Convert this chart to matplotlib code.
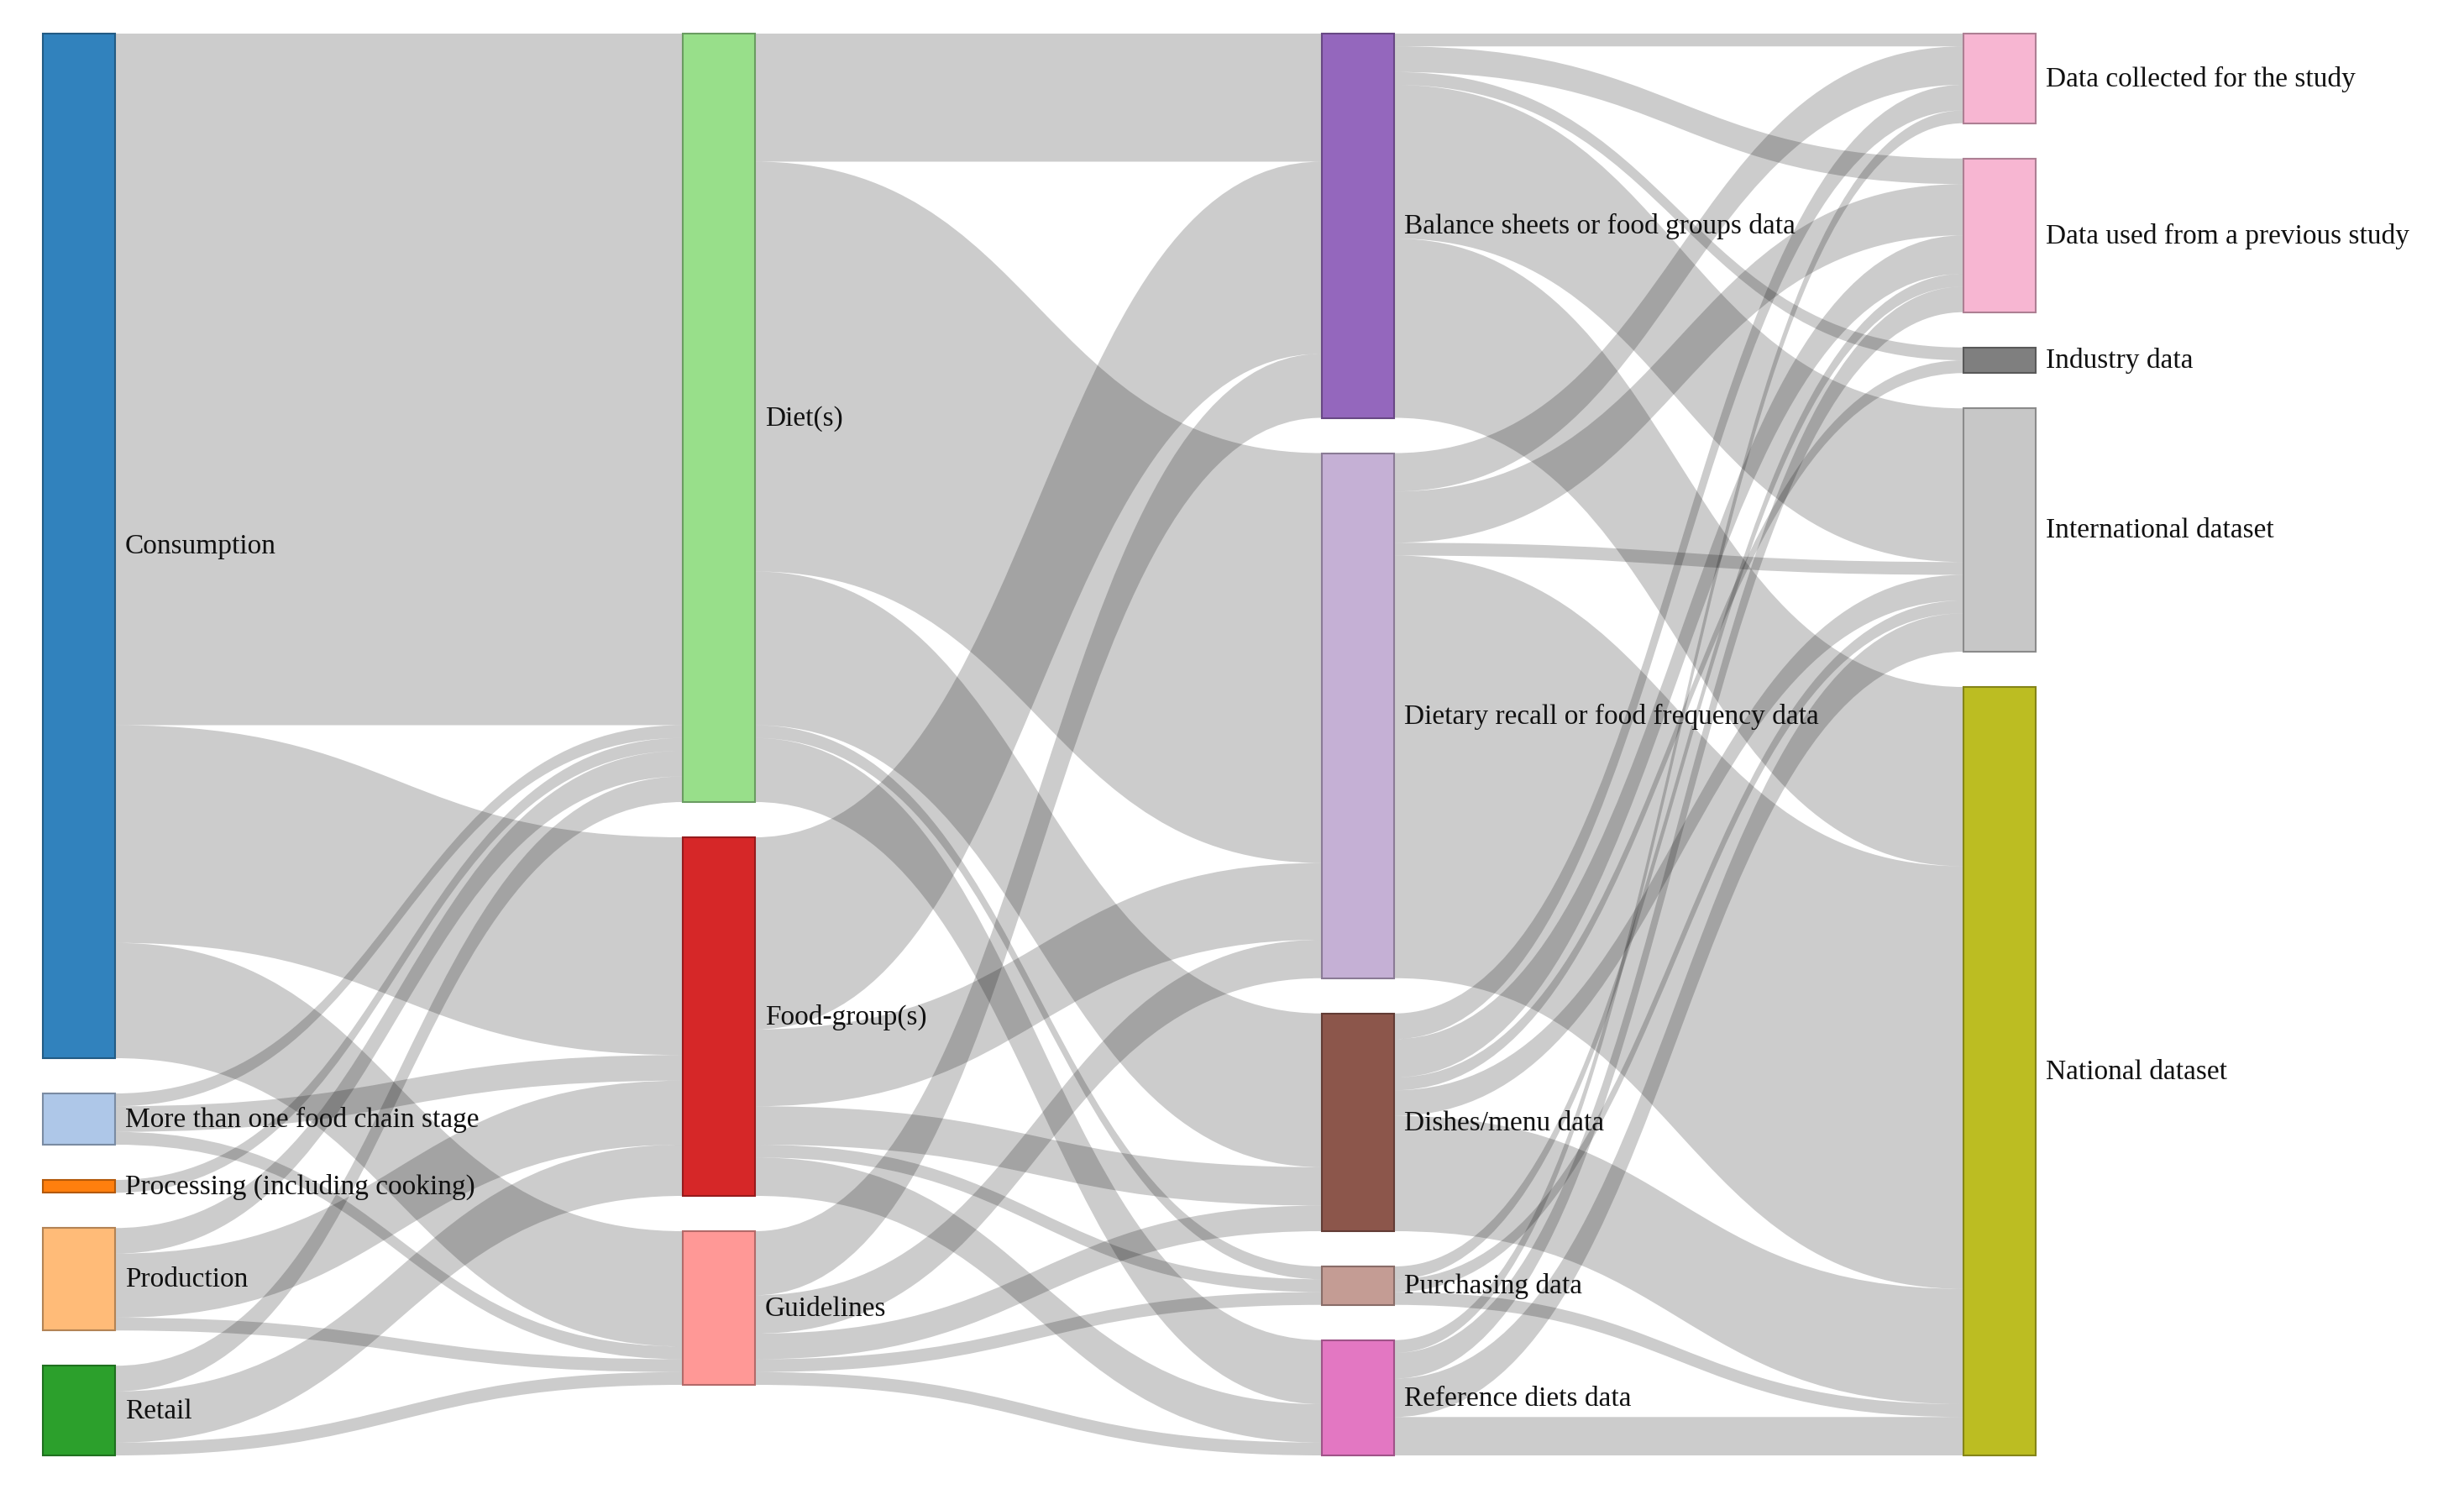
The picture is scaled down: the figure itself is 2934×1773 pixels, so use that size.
import matplotlib
matplotlib.use("Agg")
import matplotlib.pyplot as plt
from matplotlib.path import Path
from matplotlib.patches import PathPatch, Rectangle
import matplotlib.colors as mcolors

# nodes per column
columns = [
    ["Consumption", "More than one food chain stage", "Processing (including cooking)", "Production", "Retail"],
    ["Diet(s)", "Food-group(s)", "Guidelines"],
    ["Balance sheets or food groups data", "Dietary recall or food frequency data", "Dishes/menu data",
     "Purchasing data", "Reference diets data"],
    ["Data collected for the study", "Data used from a previous study", "Industry data",
     "International dataset", "National dataset"],
]
node_colors = {
    "Consumption": "#3182bd", "More than one food chain stage": "#aec7e8",
    "Processing (including cooking)": "#ff7f0e", "Production": "#ffbb78", "Retail": "#2ca02c",
    "Diet(s)": "#98df8a", "Food-group(s)": "#d62728", "Guidelines": "#ff9896",
    "Balance sheets or food groups data": "#9467bd", "Dietary recall or food frequency data": "#c5b0d5",
    "Dishes/menu data": "#8c564b", "Purchasing data": "#c49c94", "Reference diets data": "#e377c2",
    "Data collected for the study": "#f7b6d2", "Data used from a previous study": "#f7b6d2",
    "Industry data": "#7f7f7f", "International dataset": "#c7c7c7", "National dataset": "#bcbd22",
}

# links: (source, target, value)
links = [
    ("Consumption", "Diet(s)", 54), ("Consumption", "Food-group(s)", 17), ("Consumption", "Guidelines", 9),
    ("More than one food chain stage", "Diet(s)", 1), ("More than one food chain stage", "Food-group(s)", 2),
    ("More than one food chain stage", "Guidelines", 1),
    ("Processing (including cooking)", "Diet(s)", 1),
    ("Production", "Diet(s)", 2), ("Production", "Food-group(s)", 5), ("Production", "Guidelines", 1),
    ("Retail", "Diet(s)", 2), ("Retail", "Food-group(s)", 4), ("Retail", "Guidelines", 1),

    ("Diet(s)", "Balance sheets or food groups data", 10), ("Diet(s)", "Dietary recall or food frequency data", 32),
    ("Diet(s)", "Dishes/menu data", 12), ("Diet(s)", "Purchasing data", 1), ("Diet(s)", "Reference diets data", 5),
    ("Food-group(s)", "Balance sheets or food groups data", 15),
    ("Food-group(s)", "Dietary recall or food frequency data", 6),
    ("Food-group(s)", "Dishes/menu data", 3), ("Food-group(s)", "Purchasing data", 1),
    ("Food-group(s)", "Reference diets data", 3),
    ("Guidelines", "Balance sheets or food groups data", 5), ("Guidelines", "Dietary recall or food frequency data", 3),
    ("Guidelines", "Dishes/menu data", 2), ("Guidelines", "Purchasing data", 1), ("Guidelines", "Reference diets data", 1),

    ("Balance sheets or food groups data", "Data collected for the study", 1),
    ("Balance sheets or food groups data", "Data used from a previous study", 2),
    ("Balance sheets or food groups data", "Industry data", 1),
    ("Balance sheets or food groups data", "International dataset", 12),
    ("Balance sheets or food groups data", "National dataset", 14),
    ("Dietary recall or food frequency data", "Data collected for the study", 3),
    ("Dietary recall or food frequency data", "Data used from a previous study", 4),
    ("Dietary recall or food frequency data", "International dataset", 1),
    ("Dietary recall or food frequency data", "National dataset", 33),
    ("Dishes/menu data", "Data collected for the study", 2),
    ("Dishes/menu data", "Data used from a previous study", 3),
    ("Dishes/menu data", "Industry data", 1),
    ("Dishes/menu data", "International dataset", 2),
    ("Dishes/menu data", "National dataset", 9),
    ("Purchasing data", "Data used from a previous study", 1),
    ("Purchasing data", "International dataset", 1),
    ("Purchasing data", "National dataset", 1),
    ("Reference diets data", "Data collected for the study", 1),
    ("Reference diets data", "Data used from a previous study", 2),
    ("Reference diets data", "International dataset", 3),
    ("Reference diets data", "National dataset", 3),
]

W, H = 2934, 1774
col_x = [51, 813, 1574, 2338]
node_w = 86
top, bottom, gap = 41, 1734, 42

fig = plt.figure(figsize=(W / 100, H / 100), dpi=100)
ax = fig.add_axes([0, 0, 1, 1])
ax.set_xlim(0, W)
ax.set_ylim(H, 0)
ax.axis("off")

col_of = {n: c for c, names in enumerate(columns) for n in names}
order = {n: i for names in columns for i, n in enumerate(names)}
value = {}
for n in col_of:
    out_v = sum(v for s, t, v in links if s == n)
    in_v = sum(v for s, t, v in links if t == n)
    value[n] = max(out_v, in_v)

ky = min((bottom - top - gap * (len(names) - 1)) / sum(value[n] for n in names) for names in columns)
node_y = {}
for names in columns:
    y = top
    for n in names:
        node_y[n] = y
        y += value[n] * ky + gap

# link positions
src_off = {n: node_y[n] for n in col_of}
tgt_off = {n: node_y[n] for n in col_of}
by_src = sorted(links, key=lambda l: (col_of[l[0]], order[l[0]], order[l[1]]))
src_pos = {}
for s, t, v in by_src:
    src_pos[(s, t)] = src_off[s]
    src_off[s] += v * ky
by_tgt = sorted(links, key=lambda l: (col_of[l[1]], order[l[1]], order[l[0]]))
tgt_pos = {}
for s, t, v in by_tgt:
    tgt_pos[(s, t)] = tgt_off[t]
    tgt_off[t] += v * ky

for s, t, v in links:
    x0 = col_x[col_of[s]] + node_w
    x1 = col_x[col_of[t]]
    xm = (x0 + x1) / 2
    h = v * ky
    ys, yt = src_pos[(s, t)], tgt_pos[(s, t)]
    verts = [(x0, ys), (xm, ys), (xm, yt), (x1, yt), (x1, yt + h),
             (xm, yt + h), (xm, ys + h), (x0, ys + h), (x0, ys)]
    codes = [Path.MOVETO, Path.CURVE4, Path.CURVE4, Path.CURVE4, Path.LINETO,
             Path.CURVE4, Path.CURVE4, Path.CURVE4, Path.CLOSEPOLY]
    ax.add_patch(PathPatch(Path(verts, codes), facecolor=(0, 0, 0, 0.2), edgecolor="none"))

for n in col_of:
    c = node_colors[n]
    rgb = mcolors.to_rgb(c)
    dark = tuple(x * 0.7 for x in rgb)
    x = col_x[col_of[n]]
    h = value[n] * ky
    ax.add_patch(Rectangle((x, node_y[n]), node_w, h, facecolor=c, edgecolor=dark, linewidth=1.5))
    ax.text(x + node_w + 12, node_y[n] + h / 2, n, ha="left", va="center",
            fontsize=24, family="Liberation Serif", color="#111111")

fig.savefig("out.png", dpi=100, facecolor="white")
